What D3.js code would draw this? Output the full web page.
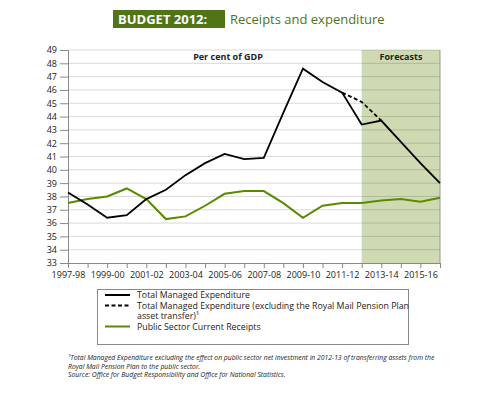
<!DOCTYPE html>
<html>
<head>
<meta charset="utf-8">
<script src="https://cdn.jsdelivr.net/npm/d3@7"></script>
<style>
  body { margin: 0; background: #fff; }
  svg { font-family: "Open Sans", "DejaVu Sans Condensed", sans-serif; }
</style>
</head>
<body>
<svg id="chart" width="479" height="394"></svg>
<script>
var years = ["1997-98", "1998-99", "1999-00", "2000-01", "2001-02", "2002-03", "2003-04",
    "2004-05", "2005-06", "2006-07", "2007-08", "2008-09", "2009-10", "2010-11",
    "2011-12", "2012-13", "2013-14", "2014-15", "2015-16", "2016-17"];
var tme = [38.3, 37.4, 36.4, 36.6, 37.8, 38.5, 39.6, 40.5, 41.2, 40.8, 40.9, 44.3, 47.6, 46.6,
    45.8, 43.4, 43.7, 42.1, 40.5, 39.0];
var tmeExRoyalMail = [null, null, null, null, null, null, null, null, null, null, null, null, null, null,
    45.8, 45.1, 43.7, null, null, null];
var receipts = [37.5, 37.8, 38.0, 38.6, 37.8, 36.3, 36.5, 37.3, 38.2, 38.4, 38.4, 37.5, 36.4, 37.3,
    37.5, 37.5, 37.7, 37.8, 37.6, 37.9];
var yTicks = [33, 34, 35, 36, 37, 38, 39, 40, 41, 42, 43, 44, 45, 46, 47, 48, 49];
var xLabels = ["1997-98", "1999-00", "2001-02", "2003-04", "2005-06", "2007-08", "2009-10", "2011-12", "2013-14", "2015-16"];
var forecastFrom = "2012-13";
var legendItems = [
    { lines: ["Total Managed Expenditure"], color: "#000", dash: null },
    { lines: ["Total Managed Expenditure (excluding the Royal Mail Pension Plan", "asset transfer)\u00b9"], color: "#000", dash: "4,2.5" },
    { lines: ["Public Sector Current Receipts"], color: "#5a8a00", dash: null }
];
var footnotes = [
    "\u00b9Total Managed Expenditure excluding the effect on public sector net investment in 2012-13 of transferring assets from the",
    "Royal Mail Pension Plan to the public sector.",
    "Source:  Office for Budget Responsibility and Office for National Statistics."
];

var svg = d3.select("#chart");
var green = "#5a8a00";

var x = d3.scalePoint().domain(years).range([68, 440]);
var y = d3.scaleLinear().domain([33, 49]).range([263, 50]);

// title
svg.append("rect").attr("x", 113).attr("y", 10).attr("width", 112).attr("height", 18)
    .attr("fill", "#4f7516");
svg.append("text").attr("x", 118).attr("y", 24).attr("fill", "#fff")
    .style("font-weight", "bold").style("font-size", "13px").text("BUDGET 2012:");
svg.append("text").attr("x", 230).attr("y", 24).attr("fill", "#4f7516")
    .style("font-size", "13px").text("Receipts and expenditure");

// forecast shading
svg.append("rect")
    .attr("x", x(forecastFrom)).attr("y", y(49))
    .attr("width", x(years[years.length - 1]) - x(forecastFrom))
    .attr("height", y(33) - y(49))
    .attr("fill", "#cfdab3");

// gridlines
svg.append("g").selectAll("line")
    .data(yTicks.slice(1))
    .enter().append("line")
    .attr("x1", 68).attr("x2", 440)
    .attr("y1", function(d) { return y(d); })
    .attr("y2", function(d) { return y(d); })
    .attr("stroke", "#000").attr("stroke-opacity", 0.15).attr("stroke-width", 1);

svg.append("line").attr("x1", 440).attr("x2", 440).attr("y1", y(49)).attr("y2", y(33))
    .attr("stroke", "#999");

// axes
var yAxis = svg.append("g").attr("transform", "translate(68,0)")
    .call(d3.axisLeft(y).tickValues(yTicks).tickSize(8).tickPadding(3).tickFormat(d3.format("d")));
var xAxis = svg.append("g").attr("transform", "translate(0," + y(33) + ")")
    .call(d3.axisBottom(x).tickSize(5).tickPadding(4)
        .tickFormat(function(d) { return xLabels.indexOf(d) >= 0 ? d : ""; }));
[yAxis, xAxis].forEach(function(a) {
    a.select(".domain").attr("stroke", "#888");
    a.selectAll(".tick line").attr("stroke", "#888");
    a.selectAll("text").attr("fill", "#222").style("font-size", "9px")
        .style("font-family", "'Open Sans', sans-serif");
});

// in-plot labels
svg.append("text").attr("x", 228).attr("y", 60).attr("text-anchor", "middle")
    .style("font-weight", "bold").style("font-size", "9px").attr("fill", "#222").text("Per cent of GDP");
svg.append("text").attr("x", 401).attr("y", 60).attr("text-anchor", "middle")
    .style("font-weight", "bold").style("font-size", "9px").attr("fill", "#222").text("Forecasts");

// lines
var line = d3.line()
    .defined(function(d) { return d != null; })
    .x(function(d, i) { return x(years[i]); })
    .y(function(d) { return y(d); });

svg.append("path").datum(receipts).attr("d", line)
    .attr("fill", "none").attr("stroke", green).attr("stroke-width", 2);
svg.append("path").datum(tmeExRoyalMail).attr("d", line)
    .attr("fill", "none").attr("stroke", "#000").attr("stroke-width", 1.8).attr("stroke-dasharray", "4,2.5");
svg.append("path").datum(tme).attr("d", line)
    .attr("fill", "none").attr("stroke", "#000").attr("stroke-width", 1.8);

// legend
var lg = svg.append("g");
lg.append("rect").attr("x", 97.5).attr("y", 289.5).attr("width", 311).attr("height", 55)
    .attr("fill", "#fff").attr("stroke", "#888");
var rowY = 298;
legendItems.forEach(function(item) {
    lg.append("line").attr("x1", 105).attr("x2", 130).attr("y1", rowY - 3).attr("y2", rowY - 3)
        .attr("stroke", item.color).attr("stroke-width", 2).attr("stroke-dasharray", item.dash);
    item.lines.forEach(function(t) {
        lg.append("text").attr("x", 137).attr("y", rowY).style("font-size", "8.8px")
            .attr("fill", "#222").text(t);
        rowY += 10.5;
    });
});

// footnotes
svg.append("g").selectAll("text")
    .data(footnotes)
    .enter().append("text")
    .attr("x", 68).attr("y", function(d, i) { return 360 + i * 8.7; })
    .style("font-size", "6.8px").style("font-style", "italic").attr("fill", "#222")
    .text(function(d) { return d; });
</script>
</body>
</html>
